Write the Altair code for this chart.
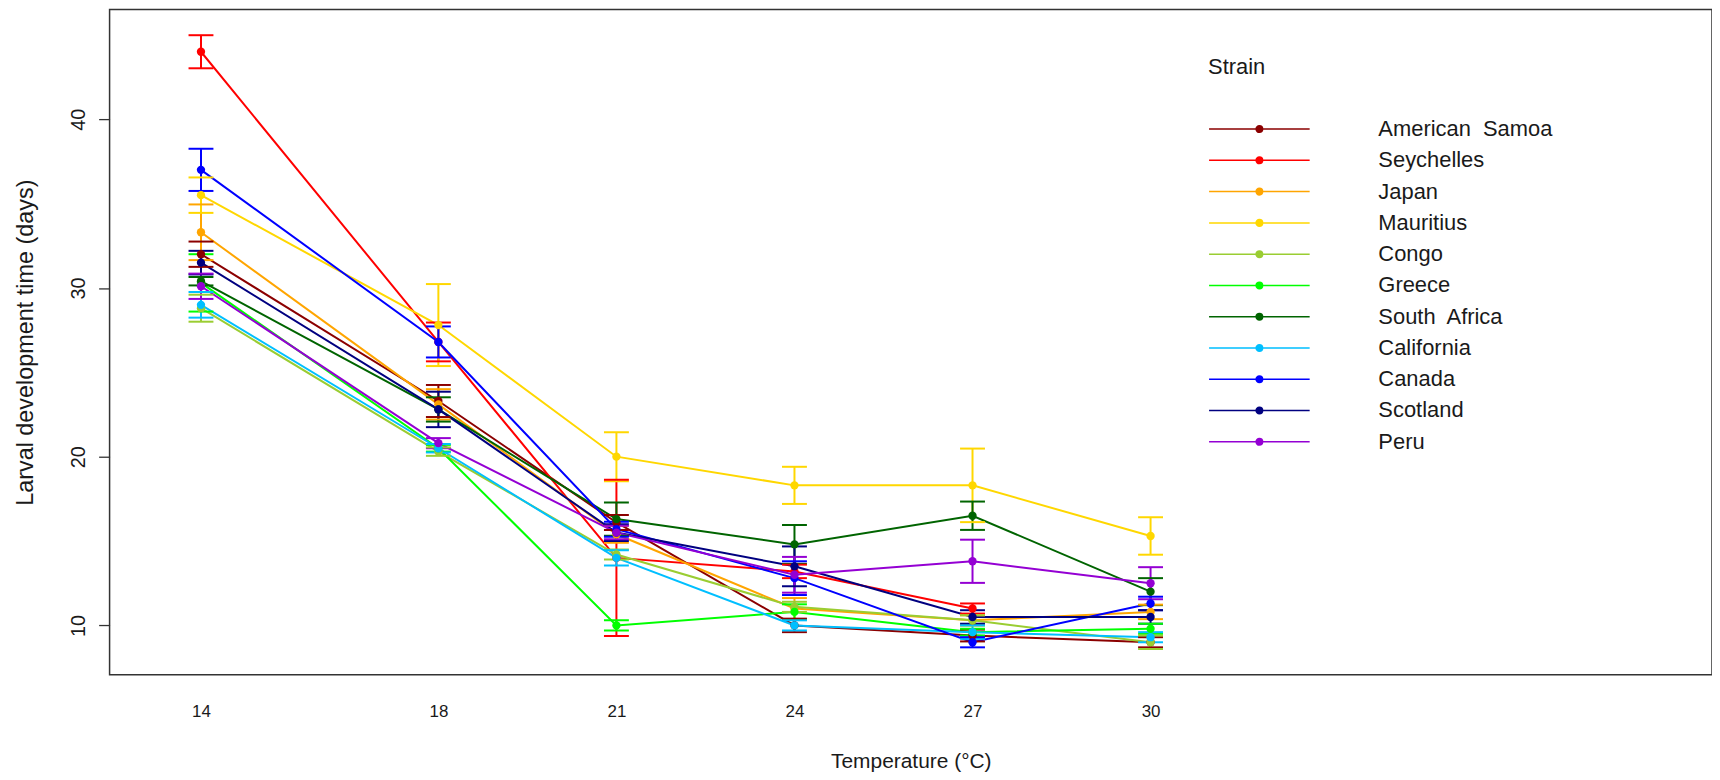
import altair as alt
import pandas as pd

temps = [14, 18, 21, 24, 27, 30]

strains = ["American\u00a0 Samoa", "Seychelles", "Japan", "Mauritius", "Congo", "Greece",
           "South\u00a0 Africa", "California", "Canada", "Scotland", "Peru"]

colors = ["#8B0000", "#FF0000", "#FFA500", "#FFD700", "#9ACD32", "#00FF00",
          "#006400", "#00BFFF", "#0000FF", "#000080", "#9400D3"]

# mean larval development time (days) per strain at each temperature
m_american_samoa = [32.0, 23.3, 16.1, 10.0, 9.4, 9.0]
m_seychelles     = [44.0, 26.8, 14.0, 13.2, 11.0, None]
m_japan          = [33.3, 23.1, 15.4, 11.0, 10.3, 10.8]
m_mauritius      = [35.5, 27.8, 20.0, 18.3, 18.3, 15.3]
m_congo          = [28.8, 20.3, 14.2, 11.1, 10.3, 9.0]
m_greece         = [30.3, 20.5, 10.0, 10.8, 9.6, 9.8]
m_south_africa   = [30.4, 22.8, 16.3, 14.8, 16.5, 12.0]
m_california     = [29.0, 20.5, 14.0, 10.0, 9.6, 9.3]
m_canada         = [37.0, 26.8, 15.7, 12.8, 9.0, 11.3]
m_scotland       = [31.5, 22.8, 15.5, 13.5, 10.5, 10.5]
m_peru           = [30.1, 20.8, 15.5, 13.0, 13.8, 12.5]

# half-widths of the error bars
e_american_samoa = [0.75, 0.95, 0.45, 0.40, 0.35, 0.30]
e_seychelles     = [0.98, 1.15, 4.63, 0.40, 0.30, None]
e_japan          = [1.65, 0.90, 0.50, 0.62, 0.30, 0.43]
e_mauritius      = [1.05, 2.43, 1.45, 1.10, 2.18, 1.11]
e_congo          = [0.80, 0.25, 0.30, 0.30, 0.30, 0.40]
e_greece         = [1.70, 0.20, 0.30, 0.45, 0.20, 0.30]
e_south_africa   = [0.25, 0.72, 0.98, 1.15, 0.84, 0.80]
e_california     = [0.76, 0.25, 0.45, 0.30, 0.40, 0.30]
e_canada         = [1.25, 0.92, 0.45, 1.00, 0.30, 0.40]
e_scotland       = [0.70, 1.05, 0.50, 1.18, 0.40, 0.40]
e_peru           = [0.75, 0.30, 0.40, 1.06, 1.28, 0.95]

means = [m_american_samoa, m_seychelles, m_japan, m_mauritius, m_congo, m_greece,
         m_south_africa, m_california, m_canada, m_scotland, m_peru]
errs = [e_american_samoa, e_seychelles, e_japan, e_mauritius, e_congo, e_greece,
        e_south_africa, e_california, e_canada, e_scotland, e_peru]

rows = []
for i, s in enumerate(strains):
    for t, m, e in zip(temps, means[i], errs[i]):
        if m is None:
            continue
        rows.append({"strain": s, "idx": i, "temp": t, "mean": m, "lo": m - e, "hi": m + e})
df = pd.DataFrame(rows)

FONT = "Liberation Sans"
TXT = "#1a1a1a"

xs = alt.Scale(domain=[12.46, 39.46], nice=False, zero=False)
ys = alt.Scale(domain=[7.07, 46.5], nice=False, zero=False)

x_axis = alt.Axis(values=temps, title="Temperature (°C)", ticks=False, domain=False, grid=False,
                  labelPadding=29, labelFontSize=17, titleFontSize=21, titlePadding=31,
                  labelFlush=False, titleFontWeight="normal", labelColor=TXT, titleColor=TXT,
                  labelFont=FONT, titleFont=FONT)
y_axis = alt.Axis(values=[10, 20, 30, 40], title="Larval development time (days)", domain=False,
                  grid=False, tickSize=11, tickWidth=1.3, tickColor="#333333",
                  labelAngle=270, labelAlign="center", labelBaseline="bottom", labelPadding=10,
                  labelFontSize=20, titleFontSize=23.5, titlePadding=31, titleFontWeight="normal",
                  labelColor=TXT, titleColor=TXT, labelFont=FONT, titleFont=FONT)

def circ(r):
    return f"M{r},0A{r},{r} 0 1,1 {-r},0A{r},{r} 0 1,1 {r},0"

sym_path = "M-1,0H1" + circ(0.015) + circ(0.04) + circ(0.065)

legend = alt.Legend(title="Strain", orient="none", legendX=1103, legendY=48,
                    symbolType=sym_path, symbolSize=10201, symbolStrokeWidth=1.5,
                    clipHeight=20, rowPadding=9.4, labelOffset=68, titlePadding=40,
                    labelFontSize=22, titleFontSize=22, titleFontWeight="normal",
                    labelFont=FONT, titleFont=FONT, labelColor=TXT, titleColor=TXT,
                    padding=0, labelLimit=400)

color = alt.Color("strain:N", scale=alt.Scale(domain=strains, range=colors), legend=legend)

X = alt.X("temp:Q", scale=xs, axis=x_axis)

base = alt.Chart(df)

lines = base.mark_line(strokeWidth=2).encode(
    x=X, y=alt.Y("mean:Q", scale=ys, axis=y_axis), color=color, order="temp:Q")
bars = base.mark_rule(strokeWidth=2).encode(
    x=X, y=alt.Y("lo:Q", scale=ys), y2="hi:Q", color=color)
cap_lo = base.mark_tick(orient="horizontal", size=25, thickness=2, opacity=1).encode(
    x=X, y=alt.Y("lo:Q", scale=ys), color=color)
cap_hi = base.mark_tick(orient="horizontal", size=25, thickness=2, opacity=1).encode(
    x=X, y=alt.Y("hi:Q", scale=ys), color=color)
points = base.mark_circle(size=70, opacity=1).encode(
    x=X, y=alt.Y("mean:Q", scale=ys), color=color)

chart = alt.layer(lines, bars, cap_lo, cap_hi, points).properties(
    width=1609, height=668,
    padding={"left": 6, "top": 0, "right": 0, "bottom": 0},
    background="white",
).configure_view(stroke="#333333", strokeWidth=1.5)

chart.save("out.html", embed_options={"renderer": "svg", "actions": False})
